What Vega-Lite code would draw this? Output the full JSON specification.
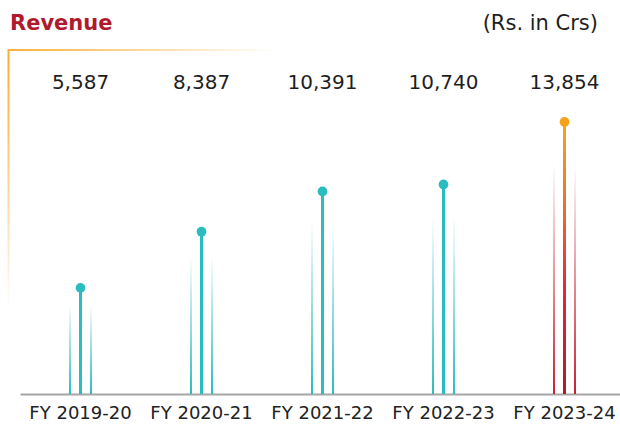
{
  "$schema": "https://vega.github.io/schema/vega-lite/v6.json",
  "autosize": {"type": "none"},
  "width": 600,
  "height": 354,
  "padding": {"left": 20, "top": 40, "right": 0, "bottom": 53},
  "background": "white",
  "config": {
    "view": {"stroke": null},
    "font": "DejaVu Sans"
  },
  "datasets": {
    "rev": [
      {"year": "FY 2019-20", "value": 5587},
      {"year": "FY 2020-21", "value": 8387},
      {"year": "FY 2021-22", "value": 10391},
      {"year": "FY 2022-23", "value": 10740},
      {"year": "FY 2023-24", "value": 13854}
    ]
  },
  "layer": [
    {
      "data": {"name": "rev"},
      "mark": {"type": "bar", "width": 2, "xOffset": -10.5},
      "encoding": {
        "x": {
          "field": "year", "type": "nominal", "sort": null,
          "scale": {"range": [0, 605], "paddingInner": 0, "paddingOuter": 0},
          "axis": {"title": null, "domainColor": "#a6a6a6", "domainWidth": 2, "ticks": false, "labelAngle": 0, "labelFont": "DejaVu Sans", "labelFontSize": 18, "labelColor": "#222222", "labelPadding": 10, "grid": false}
        },
        "y": {"field": "value", "type": "quantitative", "scale": {"domain": [300, 17940], "zero": false, "nice": false}, "axis": null},
        "y2": {"datum": 300},
        "color": {
          "condition": {"test": "datum.year === 'FY 2023-24'", "value": {"gradient": "linear", "x1": 0, "y1": 0, "x2": 0, "y2": 1, "stops": [{"offset": 0, "color": "#ffffff"}, {"offset": 0.15, "color": "#ffffff"}, {"offset": 0.6, "color": "#e68a92"}, {"offset": 1, "color": "#c8202f"}]}},
          "value": {"gradient": "linear", "x1": 0, "y1": 0, "x2": 0, "y2": 1, "stops": [{"offset": 0, "color": "#ffffff"}, {"offset": 0.15, "color": "#ffffff"}, {"offset": 0.6, "color": "#8fdbdc"}, {"offset": 1, "color": "#29bdbf"}]}
        }
      }
    },
    {
      "data": {"name": "rev"},
      "mark": {"type": "bar", "width": 2, "xOffset": 10.5},
      "encoding": {
        "x": {"field": "year", "type": "nominal", "sort": null},
        "y": {"field": "value", "type": "quantitative"},
        "y2": {"datum": 300},
        "color": {
          "condition": {"test": "datum.year === 'FY 2023-24'", "value": {"gradient": "linear", "x1": 0, "y1": 0, "x2": 0, "y2": 1, "stops": [{"offset": 0, "color": "#ffffff"}, {"offset": 0.15, "color": "#ffffff"}, {"offset": 0.6, "color": "#e68a92"}, {"offset": 1, "color": "#c8202f"}]}},
          "value": {"gradient": "linear", "x1": 0, "y1": 0, "x2": 0, "y2": 1, "stops": [{"offset": 0, "color": "#ffffff"}, {"offset": 0.15, "color": "#ffffff"}, {"offset": 0.6, "color": "#8fdbdc"}, {"offset": 1, "color": "#29bdbf"}]}
        }
      }
    },
    {
      "data": {"name": "rev"},
      "mark": {"type": "bar", "width": 3},
      "encoding": {
        "x": {"field": "year", "type": "nominal", "sort": null},
        "y": {"field": "value", "type": "quantitative"},
        "y2": {"datum": 300},
        "color": {
          "condition": {"test": "datum.year === 'FY 2023-24'", "value": {"gradient": "linear", "x1": 0, "y1": 0, "x2": 0, "y2": 1, "stops": [{"offset": 0, "color": "#f9a51b"}, {"offset": 0.3, "color": "#f2702a"}, {"offset": 0.6, "color": "#e6283a"}, {"offset": 1, "color": "#b3182b"}]}},
          "value": "#29bdbf"
        }
      }
    },
    {
      "data": {"name": "rev"},
      "mark": {"type": "point", "filled": true, "size": 95, "opacity": 1},
      "encoding": {
        "x": {"field": "year", "type": "nominal", "sort": null},
        "y": {"field": "value", "type": "quantitative"},
        "color": {
          "condition": {"test": "datum.year === 'FY 2023-24'", "value": "#f7a21b"},
          "value": "#29bdbf"
        }
      }
    },
    {
      "data": {"name": "rev"},
      "mark": {"type": "text", "fontSize": 20, "font": "DejaVu Sans", "color": "#1e1e1e", "baseline": "middle", "align": "center"},
      "encoding": {
        "x": {"field": "year", "type": "nominal", "sort": null},
        "y": {"datum": 15797},
        "text": {"field": "value", "type": "quantitative", "format": ","}
      }
    },
    {
      "data": {"values": [{"note": "(Rs. in Crs)", "year": "FY 2023-24"}]},
      "mark": {"type": "text", "fontSize": 21, "font": "DejaVu Sans", "color": "#1e1e1e", "baseline": "middle", "align": "right", "dx": 33.5},
      "encoding": {
        "x": {"field": "year", "type": "nominal"},
        "y": {"datum": 18737},
        "text": {"field": "note"}
      }
    },
    {
      "data": {"values": [{"note": "Revenue", "year": "FY 2019-20"}]},
      "mark": {"type": "text", "fontSize": 21, "font": "DejaVu Sans", "fontWeight": "bold", "color": "#b01a2c", "baseline": "middle", "align": "left", "dx": -70.5},
      "encoding": {
        "x": {"field": "year", "type": "nominal"},
        "y": {"datum": 18737},
        "text": {"field": "note"}
      }
    },
    {
      "data": {"values": [{"part": "left", "year": "FY 2019-20"}]},
      "mark": {"type": "bar", "width": 2, "xOffset": -72, "color": {"gradient": "linear", "x1": 0, "y1": 0, "x2": 0, "y2": 1, "stops": [{"offset": 0, "color": "#f9ad32"}, {"offset": 0.3, "color": "#fbc068"}, {"offset": 1, "color": "#ffffff"}]}},
      "encoding": {
        "x": {"field": "year", "type": "nominal"},
        "y": {"datum": 17491},
        "y2": {"datum": 4486}
      }
    },
    {
      "data": {"values": [{"part": "top", "year": "FY 2020-21"}]},
      "mark": {"type": "bar", "width": 267, "xOffset": -60, "color": {"gradient": "linear", "x1": 0, "y1": 0, "x2": 1, "y2": 0, "stops": [{"offset": 0, "color": "#f9b13e"}, {"offset": 1, "color": "#ffffff"}]}},
      "encoding": {
        "x": {"field": "year", "type": "nominal"},
        "y": {"datum": 17491},
        "y2": {"datum": 17391}
      }
    }
  ]
}
